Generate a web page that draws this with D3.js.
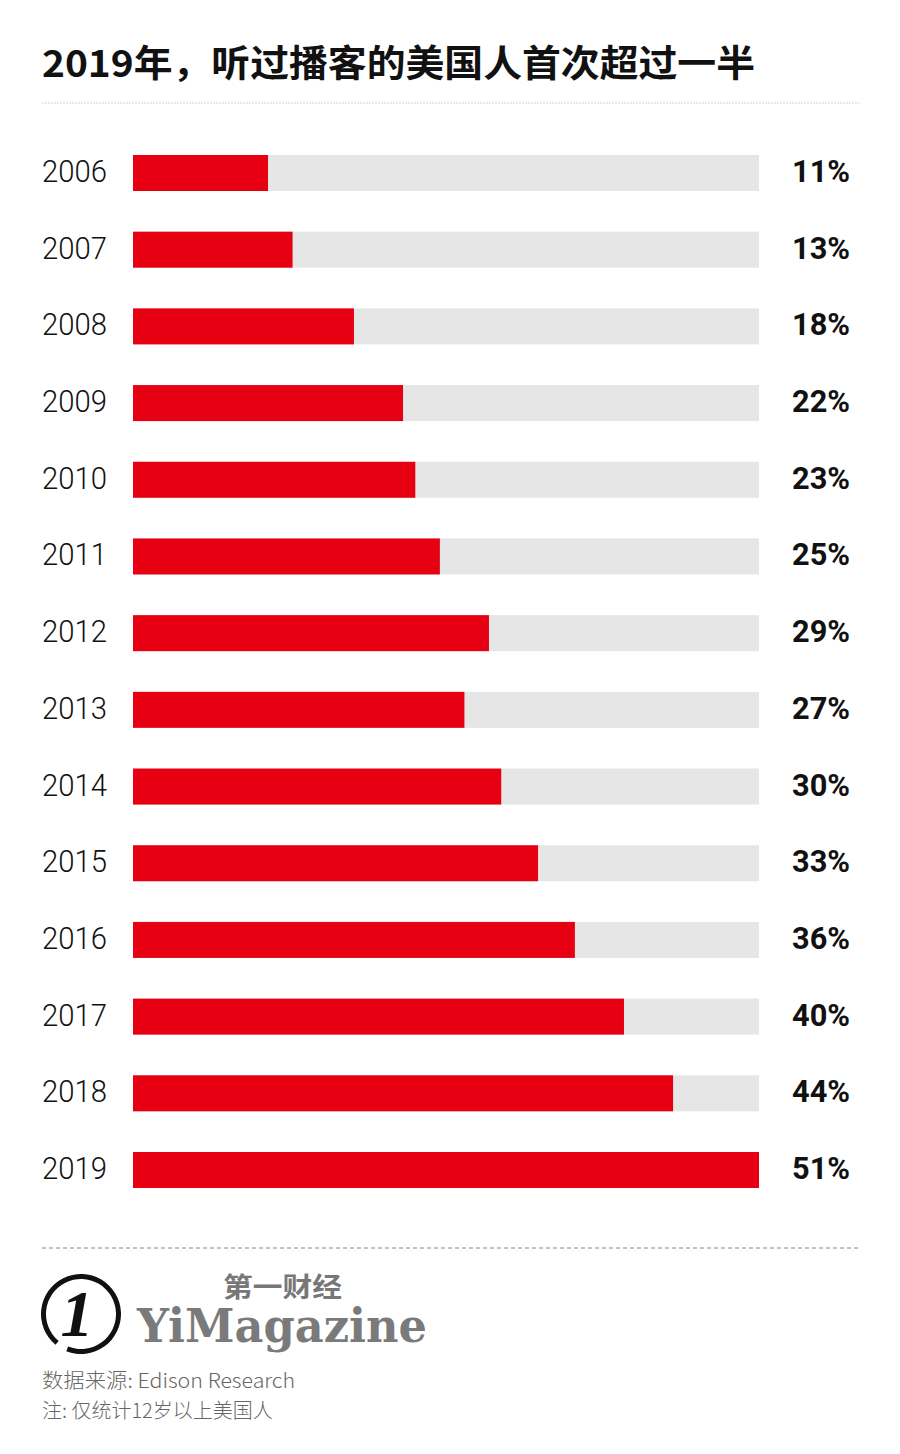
<!DOCTYPE html>
<html>
<head>
<meta charset="utf-8">
<script src="https://cdn.jsdelivr.net/npm/d3@7"></script>
<style>
  body { margin: 0; background: #fff; }
  svg { display: block; }
</style>
</head>
<body>
<svg id="chart"></svg>
<script>
var years = ["2006","2007","2008","2009","2010","2011","2012","2013","2014","2015","2016","2017","2018","2019"];
var shares = [11,13,18,22,23,25,29,27,30,33,36,40,44,51];
var title = "2019年，听过播客的美国人首次超过一半";
var source = "数据来源: Edison Research";
var note = "注: 仅统计12岁以上美国人";

var W = 900, H = 1454;
var cfg = {
  left: 42, right: 860,
  barX0: 133, barX1: 759,
  barH: 36,
  red: "#e60012", track: "#e6e6e6"
};

var svg = d3.select("#chart").attr("width", W).attr("height", H);

// title
svg.append("text")
  .attr("x", cfg.left).attr("y", 77)
  .attr("font-family", "Noto Sans CJK SC")
  .attr("font-weight", 700)
  .attr("font-size", 37)
  .attr("textLength", 713)
  .attr("lengthAdjust", "spacingAndGlyphs")
  .attr("fill", "#111")
  .text(title);

svg.append("line")
  .attr("x1", cfg.left).attr("x2", cfg.right)
  .attr("y1", 103).attr("y2", 103)
  .attr("stroke", "#d4d4d4").attr("stroke-width", 1)
  .attr("stroke-dasharray", "2,1");

var x = d3.scaleLinear().domain([0, d3.max(shares)]).range([cfg.barX0, cfg.barX1]);
var y = d3.scalePoint().domain(years).range([173, 1170]);

var rows = svg.selectAll(".row")
  .data(years)
  .enter().append("g")
  .attr("class", "row")
  .attr("transform", function(d) { return "translate(0," + y(d) + ")"; });

rows.append("rect")
  .attr("x", x(0)).attr("y", -cfg.barH / 2)
  .attr("width", x.range()[1] - x(0)).attr("height", cfg.barH)
  .attr("fill", cfg.track);

rows.append("rect")
  .attr("x", x(0)).attr("y", -cfg.barH / 2)
  .attr("width", function(d, i) { return x(shares[i]) - x(0); })
  .attr("height", cfg.barH)
  .attr("fill", cfg.red);

rows.append("text")
  .attr("x", cfg.left).attr("y", 9)
  .attr("font-family", "Roboto").attr("font-weight", 300)
  .attr("font-size", 32)
  .attr("textLength", 65).attr("lengthAdjust", "spacingAndGlyphs")
  .attr("fill", "#111")
  .text(function(d) { return d; });

rows.append("text")
  .attr("x", 792).attr("y", 9)
  .attr("font-family", "Roboto").attr("font-weight", 700)
  .attr("font-size", 32)
  .attr("textLength", 58).attr("lengthAdjust", "spacingAndGlyphs")
  .attr("fill", "#111")
  .text(function(d, i) { return shares[i] + "%"; });

// footer
svg.append("line")
  .attr("x1", cfg.left).attr("x2", cfg.right)
  .attr("y1", 1248).attr("y2", 1248)
  .attr("stroke", "#888").attr("stroke-width", 1)
  .attr("stroke-dasharray", "4,3");

var logo = svg.append("g").attr("transform", "translate(81,1314)");
logo.append("path")
  .attr("d", d3.arc().innerRadius(35).outerRadius(40)
    .startAngle(Math.PI * 1.22).endAngle(Math.PI * 3.12)())
  .attr("fill", "#111");
logo.append("text")
  .attr("x", -4).attr("y", 22)
  .attr("text-anchor", "middle")
  .attr("font-family", "Liberation Serif").attr("font-style", "italic").attr("font-weight", 700)
  .attr("font-size", 66)
  .attr("fill", "#111")
  .text("1");

svg.append("text")
  .attr("x", 223).attr("y", 1297)
  .attr("font-family", "Noto Sans CJK SC").attr("font-weight", 700)
  .attr("font-size", 27)
  .attr("textLength", 119).attr("lengthAdjust", "spacingAndGlyphs")
  .attr("fill", "#777")
  .text("第一财经");

svg.append("text")
  .attr("x", 137).attr("y", 1342)
  .attr("font-family", "DejaVu Serif").attr("font-weight", 700)
  .attr("font-size", 46)
  .attr("textLength", 290).attr("lengthAdjust", "spacingAndGlyphs")
  .attr("fill", "#7a7a7a")
  .text("YiMagazine");

svg.append("text")
  .attr("x", cfg.left).attr("y", 1388)
  .attr("font-family", "Noto Sans CJK SC").attr("font-weight", 300)
  .attr("font-size", 20)
  .attr("textLength", 253).attr("lengthAdjust", "spacingAndGlyphs")
  .attr("fill", "#666")
  .text(source);

svg.append("text")
  .attr("x", cfg.left).attr("y", 1418)
  .attr("font-family", "Noto Sans CJK SC").attr("font-weight", 300)
  .attr("font-size", 20)
  .attr("fill", "#666")
  .text(note);
</script>
</body>
</html>
